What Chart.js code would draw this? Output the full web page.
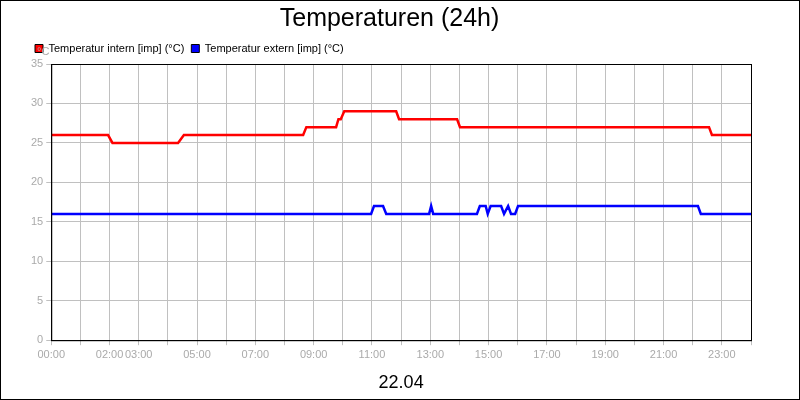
<!DOCTYPE html>
<html>
<head>
<meta charset="utf-8">
<script src="https://cdn.jsdelivr.net/npm/chart.js@4"></script>
<style>
  body { margin: 0; background: #fff; }
  canvas { display: block; }
</style>
</head>
<body>
<canvas id="tempChart" width="800" height="400"></canvas>
<script>
// hour-of-day, value pairs (step shaped series)
const internHours  = [0, 1.95, 2.1, 4.35, 4.55, 8.64, 8.75, 9.77, 9.85, 9.93, 10.05, 11.83, 11.93, 13.92, 14.02, 22.56, 22.66, 24];
const internValues = [26, 26, 25, 25, 26, 26, 27, 27, 28, 28, 29, 29, 28, 28, 27, 27, 26, 26];
const externHours  = [0, 10.97, 11.07, 11.38, 11.49, 12.96, 13.03, 13.1, 14.6, 14.7, 14.9, 14.97, 15.07, 15.43, 15.53, 15.67, 15.77, 15.91, 16.01, 22.18, 22.28, 24];
const externValues = [16, 16, 17, 17, 16, 16, 17, 16, 16, 17, 17, 16, 17, 17, 16, 17, 16, 16, 17, 17, 16, 16];
const tickHours  = [0, 2, 3, 5, 7, 9, 11, 13, 15, 17, 19, 21, 23];
const tickLabels = ['00:00', '02:00', '03:00', '05:00', '07:00', '09:00', '11:00', '13:00', '15:00', '17:00', '19:00', '21:00', '23:00'];

const toPoints = (xs, ys) => xs.map((x, i) => ({ x, y: ys[i] }));
const FONT = 'Arial, "Liberation Sans", sans-serif';

// frame around canvas + plot area, unit label, legend shift
const framePlugin = {
  id: 'frame',
  afterLayout(chart) {
    chart.legend.legendHitBoxes.forEach(b => { b.left += 20; });
  },
  afterDraw(chart) {
    const { ctx, chartArea: a } = chart;
    ctx.save();
    ctx.strokeStyle = '#000';
    ctx.lineWidth = 1;
    ctx.strokeRect(0.5, 0.5, chart.width - 1, chart.height - 1);
    ctx.strokeRect(a.left + 0.5, a.top + 0.5, a.width, a.height);
    ctx.fillStyle = '#aaa';
    ctx.font = '11px ' + FONT;
    ctx.textAlign = 'left';
    ctx.fillText('°C', 37, a.top - 12);
    ctx.restore();
  }
};

new Chart(document.getElementById('tempChart'), {
  type: 'line',
  data: {
    datasets: [{
      label: 'Temperatur intern [imp] (°C)',
      data: toPoints(internHours, internValues),
      borderColor: '#ff0000',
      backgroundColor: '#ff0000',
      borderWidth: 2.5,
      pointRadius: 0,
      tension: 0,
    }, {
      label: 'Temperatur extern [imp] (°C)',
      data: toPoints(externHours, externValues),
      borderColor: '#0000ff',
      backgroundColor: '#0000ff',
      borderWidth: 2.5,
      pointRadius: 0,
      tension: 0,
    }]
  },
  options: {
    responsive: false,
    animation: false,
    layout: { padding: { left: 28, right: 49, top: 0, bottom: 2 } },
    plugins: {
      title: {
        display: true, text: 'Temperaturen (24h)', color: '#000',
        font: { family: FONT, size: 25, weight: 'normal' },
        padding: { top: 4, bottom: 2 }
      },
      legend: {
        align: 'start',
        labels: {
          boxWidth: 8, boxHeight: 8, padding: 7, color: '#000',
          font: { family: FONT, size: 11 },
          generateLabels: chart => chart.data.datasets.map((d, i) => ({
            text: d.label, fillStyle: d.borderColor, strokeStyle: '#000', lineWidth: 1, datasetIndex: i
          }))
        }
      },
      tooltip: { enabled: false }
    },
    scales: {
      x: {
        type: 'linear', min: 0, max: 24,
        ticks: {
          stepSize: 1,
          color: '#aaa', font: { family: FONT, size: 11 },
          maxRotation: 0, autoSkip: false,
          callback: v => { const i = tickHours.indexOf(v); return i < 0 ? '' : tickLabels[i]; }
        },
        grid: { color: '#c0c0c0', tickLength: 5 },
        border: { color: '#000' },
        title: {
          display: true, text: '22.04', color: '#000',
          font: { family: FONT, size: 18 },
          padding: { top: 8 }
        }
      },
      y: {
        min: 0, max: 35,
        ticks: { stepSize: 5, color: '#aaa', font: { family: FONT, size: 11 } },
        grid: { color: '#c0c0c0', tickLength: 5 },
        border: { color: '#000' }
      }
    }
  },
  plugins: [framePlugin]
});
</script>
</body>
</html>
